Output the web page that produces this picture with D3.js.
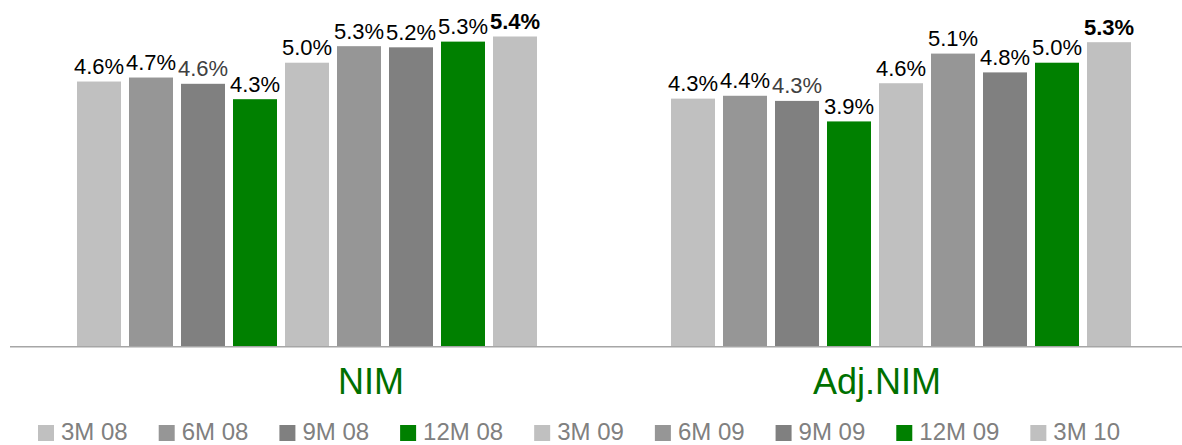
<!DOCTYPE html>
<html>
<head>
<meta charset="utf-8">
<script src="https://cdn.jsdelivr.net/npm/d3@7"></script>
<style>
  html, body { margin: 0; padding: 0; background: #fff; }
  svg { display: block; font-family: "Liberation Sans", Arial, sans-serif; }
</style>
</head>
<body>
<svg id="chart" width="1182" height="445"></svg>
<script>
// Net interest margin by reporting period, in percent
const groups = ["NIM", "Adj.NIM"];
const periods = ["3M 08", "6M 08", "9M 08", "12M 08", "3M 09", "6M 09", "9M 09", "12M 09", "3M 10"];
const nimValues = [4.64, 4.71, 4.60, 4.33, 4.97, 5.26, 5.24, 5.34, 5.43];
const adjNimValues = [4.34, 4.39, 4.30, 3.94, 4.61, 5.13, 4.80, 4.97, 5.33];
const periodColors = ["#c0c0c0", "#969696", "#808080", "#008000", "#c0c0c0", "#969696", "#808080", "#008000", "#c0c0c0"];

const seriesByGroup = { "NIM": nimValues, "Adj.NIM": adjNimValues };

const svg = d3.select("#chart");
const W = 1182, baseY = 346;

// group scale, bar scale inside each group, value scale
const x0 = d3.scaleBand().domain(groups).range([10, 1198]).padding(0);
const x1 = d3.scaleBand().domain(periods).range([67, 527]).paddingInner(8 / 52).paddingOuter(0);
const y = d3.scaleLinear().domain([0, 6]).range([baseY, baseY - 6 * 57]);
const fmt = v => d3.format(".1f")(v) + "%";

const g = svg.selectAll("g.group")
  .data(groups)
  .join("g")
  .attr("class", "group")
  .attr("transform", d => `translate(${x0(d)},0)`);

const cells = g.selectAll("g.cell")
  .data(gr => seriesByGroup[gr].map((v, i) => ({ group: gr, period: periods[i], value: v, i })))
  .join("g")
  .attr("class", "cell");

cells.append("rect")
  .attr("x", d => x1(d.period))
  .attr("width", x1.bandwidth())
  .attr("y", d => y(d.value))
  .attr("height", d => baseY - y(d.value))
  .attr("fill", d => periodColors[d.i]);

cells.append("text")
  .attr("x", d => x1(d.period) + x1.bandwidth() / 2)
  .attr("y", d => y(d.value) - 7.5)
  .attr("text-anchor", "middle")
  .attr("font-size", 22)
  .attr("font-weight", d => d.i === periods.length - 1 ? "bold" : "normal")
  .attr("fill", d => d.period === "9M 08" ? "#404040" : "#000")
  .text(d => fmt(d.value));

// category axis line
svg.append("line")
  .attr("x1", 10).attr("x2", W)
  .attr("y1", baseY + 0.75).attr("y2", baseY + 0.75)
  .attr("stroke", "#a6a6a6")
  .attr("stroke-width", 1.5);

// category titles
const titleNudge = { "NIM": 64, "Adj.NIM": -24 };
svg.selectAll("text.cat")
  .data(groups)
  .join("text")
  .attr("class", "cat")
  .attr("x", d => x0(d) + x0.bandwidth() / 2 + titleNudge[d])
  .attr("y", 394)
  .attr("text-anchor", "middle")
  .attr("font-size", 36)
  .attr("fill", "#007000")
  .text(d => d);

// legend row
const legend = svg.append("g").attr("class", "legend");
let lx = 38;
periods.forEach((p, i) => {
  const item = legend.append("g").attr("transform", `translate(${lx},0)`);
  item.append("rect")
    .attr("x", 0).attr("y", 425)
    .attr("width", 16).attr("height", 16)
    .attr("fill", periodColors[i]);
  const t = item.append("text")
    .attr("x", 23).attr("y", 440)
    .attr("font-size", 24)
    .attr("fill", "#808080")
    .text(p);
  lx += 23 + t.node().getComputedTextLength() + 31;
});
</script>
</body>
</html>
